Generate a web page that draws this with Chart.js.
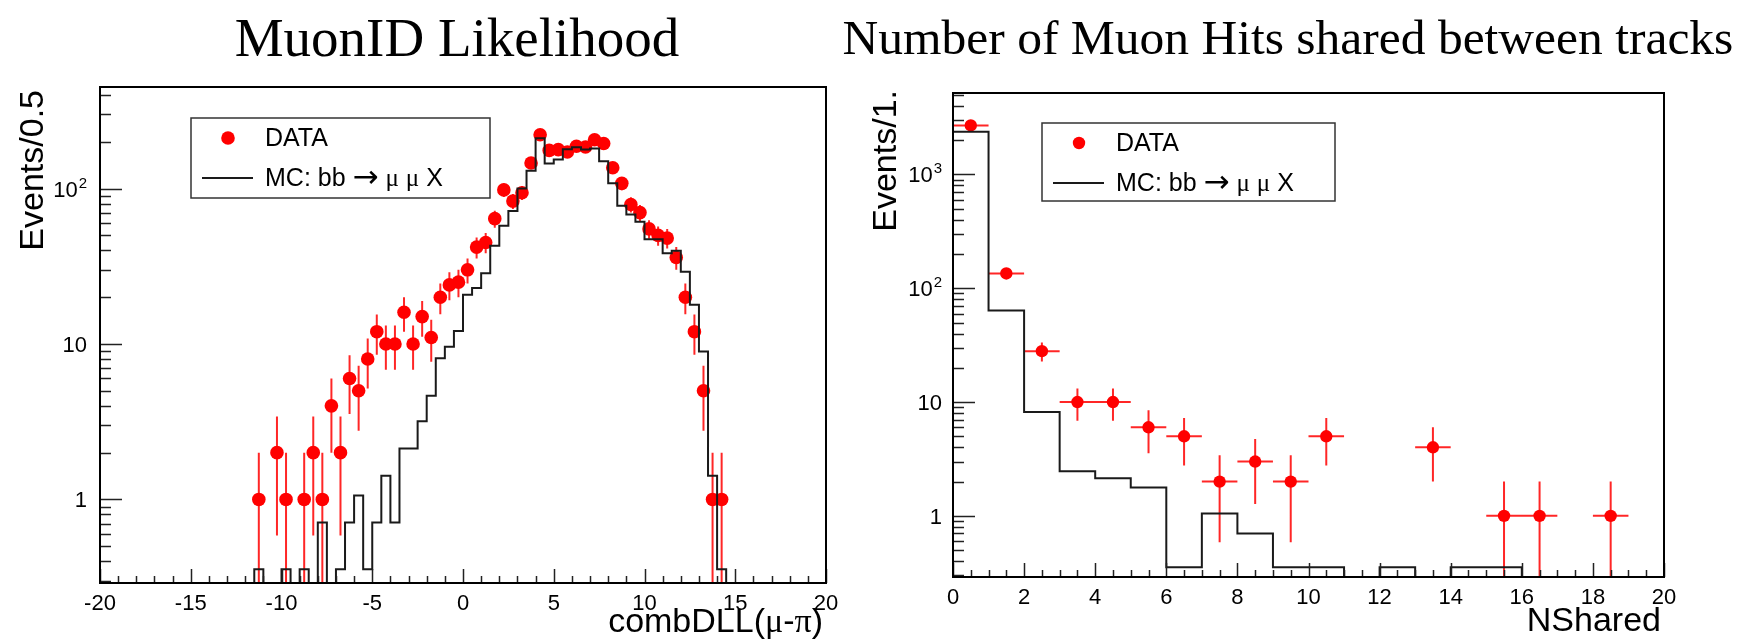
<!DOCTYPE html>
<html>
<head>
<meta charset="utf-8">
<script src="https://cdn.jsdelivr.net/npm/chart.js@4.4.0/dist/chart.umd.min.js"></script>
<style>
  body { margin: 0; background: #fff; }
  #wrap { position: relative; width: 1740px; height: 640px; overflow: hidden; }
  canvas { position: absolute; top: 0; }
  .title { position: absolute; top: 11px; font-family: 'Liberation Serif', 'Times New Roman', serif; color: #000; text-align: center; white-space: nowrap; line-height: 54px; }
</style>
</head>
<body>
<div id="wrap">
  <canvas id="dll" width="870" height="640" style="left:0"></canvas>
  <canvas id="nshared" width="870" height="640" style="left:870px"></canvas>
  <div class="title" style="left:0;width:914px;font-size:55px">MuonID Likelihood</div>
  <div class="title" style="left:836px;width:904px;font-size:49.5px">Number of Muon Hits shared between tracks</div>
</div>
<script>
// combDLL(mu-pi), bins of 0.5
var dllBinWidth = 0.5;
var dllDataFirst = -11.25;   // centre of first data bin
var dllData = [1, 0, 2, 1, 0, 1, 2, 1, 4, 2, 6, 5, 8, 12, 10, 10, 16, 10, 15, 11,
               20, 24, 25, 30, 42, 45, 64, 98, 83, 94, 146, 222, 176, 178, 172, 187,
               185, 206, 195, 136, 108, 79, 70, 55, 50, 48, 36, 20, 12, 5, 1, 1];
var dllMcFirst = -11.5;      // low edge of first MC bin
var dllMc = [0.355, 0, 0, 0.355, 0, 0.355, 0, 0.71, 0, 0.355, 0.71, 1.06, 0.355, 0.71,
             1.42, 0.71, 2.13, 2.13, 3.18, 4.65, 8.1, 9.6, 12.1, 20.7, 22.9, 28.5, 42.9,
             57.6, 71.6, 100, 130, 211, 145, 154, 179, 184, 178, 181, 150, 108, 77.4,
             68.2, 61.2, 47.1, 47.1, 38.3, 39.8, 29.2, 17.9, 8.95, 1.42, 0.355];
var dllXTicks = [-20, -15, -10, -5, 0, 5, 10, 15, 20];
var dllYTicks = [1, 10, 100];
var dllYLabels = ['1', '10', '10^2'];

// number of shared muon hits, bins of 1
var nsBinWidth = 1;
var nsData = [2700, 135, 28, 10, 10, 6, 5, 2, 3, 2, 5, 0, 0, 4, 0, 1, 1, 0, 1, 0];
var nsMc = [2370, 63.6, 8.17, 2.46, 2.14, 1.77, 0.354, 1.05, 0.70, 0.354, 0.354, 0,
            0.354, 0, 0.354, 0.354, 0, 0, 0, 0];
var nsXTicks = [0, 2, 4, 6, 8, 10, 12, 14, 16, 18, 20];
var nsYTicks = [1, 10, 100, 1000];
var nsYLabels = ['1', '10', '10^2', '10^3'];

var SANS = '"Liberation Sans", Arial, Helvetica, sans-serif';
var GREEK = '"Liberation Serif", "Times New Roman", serif';
var ARROW = '"DejaVu Sans", sans-serif';

// data points at bin centres, empty bins are not drawn
function dataPoints(first, width, values) {
  var pts = [];
  values.forEach(function (v, i) {
    if (v > 0) pts.push({ x: first + i * width, y: v });
  });
  return pts;
}

// step outline: one point per low edge, closed down to the axis floor
function histPoints(first, width, values, xmin, xmax, floor) {
  var pts = [{ x: xmin, y: floor }];
  values.forEach(function (v, i) {
    pts.push({ x: first + i * width, y: v > 0 ? v : floor });
  });
  var end = first + values.length * width;
  pts.push({ x: end, y: floor });
  if (end < xmax) pts.push({ x: xmax, y: floor });
  return pts;
}

// text with greek letters and arrows set in a symbol-like face
function richText(ctx, str, x, y, size, align) {
  var runs = [];
  for (var i = 0; i < str.length; i++) {
    var c = str[i];
    var isArrow = /[\u2190-\u21ff]/.test(c);
    var font = isArrow ? ARROW : (/[\u0370-\u03ff]/.test(c) ? GREEK : SANS);
    var px = isArrow ? Math.round(size * 1.25) : size;
    var last = runs[runs.length - 1];
    if (last && last.font === font && last.px === px) last.t += c;
    else runs.push({ t: c, font: font, px: px });
  }
  var total = 0;
  runs.forEach(function (r) {
    ctx.font = r.px + 'px ' + r.font;
    r.w = ctx.measureText(r.t).width;
    total += r.w;
  });
  var cx = align === 'right' ? x - total : x;
  ctx.textAlign = 'left';
  runs.forEach(function (r) {
    ctx.font = r.px + 'px ' + r.font;
    ctx.fillText(r.t, cx, y);
    cx += r.w;
  });
}

// ROOT-like frame, inward ticks, error bars, axis titles and legend box
var rootStyle = {
  id: 'rootStyle',
  beforeDatasetsDraw: function (chart, args, opts) {
    var ctx = chart.ctx, x = chart.scales.x, y = chart.scales.y, a = chart.chartArea;
    ctx.save();
    ctx.beginPath();
    ctx.rect(a.left, a.top, a.right - a.left, a.bottom - a.top);
    ctx.clip();
    ctx.strokeStyle = 'rgba(255,0,0,0.85)';
    ctx.lineWidth = 2;
    ctx.beginPath();
    chart.data.datasets.forEach(function (ds) {
      if (!ds.errorBars) return;
      ds.data.forEach(function (p) {
        var e = Math.sqrt(p.y);
        var px = x.getPixelForValue(p.x);
        var py = y.getPixelForValue(p.y);
        ctx.moveTo(px, y.getPixelForValue(Math.max(p.y - e, y.min)));
        ctx.lineTo(px, y.getPixelForValue(p.y + e));
        ctx.moveTo(x.getPixelForValue(p.x - ds.binWidth / 2), py);
        ctx.lineTo(x.getPixelForValue(p.x + ds.binWidth / 2), py);
      });
    });
    ctx.stroke();
    ctx.restore();
  },
  afterDraw: function (chart, args, opts) {
    var ctx = chart.ctx, x = chart.scales.x, y = chart.scales.y, a = chart.chartArea;
    ctx.save();

    // ticks pointing into the frame
    ctx.strokeStyle = '#222';
    ctx.lineWidth = 1.5;
    ctx.beginPath();
    for (var v = x.min; v <= x.max + 1e-9; v += opts.xMinor) {
      var r = v / opts.xMajor;
      var major = Math.abs(r - Math.round(r)) < 1e-6;
      var px = Math.round(x.getPixelForValue(v)) + 0.5;
      ctx.moveTo(px, a.bottom);
      ctx.lineTo(px, a.bottom - (major ? 14 : 7));
    }
    var d0 = Math.floor(Math.log10(y.min)), d1 = Math.ceil(Math.log10(y.max));
    for (var d = d0; d <= d1; d++) {
      for (var k = 1; k <= 9; k++) {
        var val = k * Math.pow(10, d);
        if (val < y.min || val > y.max) continue;
        var py = Math.round(y.getPixelForValue(val)) + 0.5;
        ctx.moveTo(a.left, py);
        ctx.lineTo(a.left + (k === 1 ? 22 : 11), py);
      }
    }
    ctx.stroke();

    // frame
    ctx.strokeStyle = '#000';
    ctx.lineWidth = 2;
    ctx.strokeRect(a.left, a.top, a.right - a.left, a.bottom - a.top);

    // log axis labels, powers written as raised exponents
    ctx.fillStyle = '#000';
    ctx.textBaseline = 'alphabetic';
    ctx.textAlign = 'right';
    opts.yTicks.forEach(function (t, i) {
      var parts = opts.yLabels[i].split('^');
      var base = y.getPixelForValue(t) + 8;
      var right = a.left - opts.yPad;
      if (parts[1]) {
        ctx.font = '15px ' + SANS;
        ctx.fillText(parts[1], right, base - 9);
        right -= ctx.measureText(parts[1]).width + 1;
      }
      ctx.font = '22px ' + SANS;
      ctx.fillText(parts[0], right, base);
    });

    // axis titles, aligned to the axis ends
    ctx.font = '34px ' + SANS;
    richText(ctx, opts.xTitle, a.right - 3, opts.xTitleBaseline, 34, 'right');
    ctx.save();
    ctx.translate(opts.yTitleBaseline, opts.yTitleEnd);
    ctx.rotate(-Math.PI / 2);
    ctx.font = '34px ' + SANS;
    ctx.textAlign = 'right';
    ctx.fillText(opts.yTitle, 0, 0);
    ctx.restore();

    // legend
    var L = opts.legend;
    ctx.strokeStyle = '#333';
    ctx.lineWidth = 1.5;
    ctx.strokeRect(L.x, L.y, L.w, L.h);
    ctx.textBaseline = 'middle';
    var dataSet = chart.data.datasets[0], mcSet = chart.data.datasets[1];
    ctx.fillStyle = dataSet.backgroundColor;
    ctx.beginPath();
    ctx.arc(L.x + 37, L.y + 20, dataSet.pointRadius, 0, Math.PI * 2);
    ctx.fill();
    ctx.fillStyle = '#000';
    richText(ctx, dataSet.label, L.x + 74, L.y + 21, 25, 'left');
    ctx.strokeStyle = mcSet.borderColor;
    ctx.lineWidth = mcSet.borderWidth;
    ctx.beginPath();
    ctx.moveTo(L.x + 11, L.y + 60);
    ctx.lineTo(L.x + 62, L.y + 60);
    ctx.stroke();
    richText(ctx, mcSet.label, L.x + 74, L.y + 61, 25, 'left');

    ctx.restore();
  }
};

function makeChart(id, cfg) {
  return new Chart(document.getElementById(id), {
    type: 'scatter',
    data: {
      datasets: [{
        label: 'DATA',
        data: cfg.data,
        backgroundColor: '#ff0000',
        borderWidth: 0,
        pointRadius: cfg.radius,
        pointHoverRadius: cfg.radius,
        errorBars: true,
        binWidth: cfg.binWidth,
        order: 2
      }, {
        label: 'MC: bb \u2192 \u03bc \u03bc X',
        type: 'line',
        data: cfg.mc,
        stepped: true,
        borderColor: '#1a1a1a',
        borderWidth: 2,
        pointRadius: 0,
        fill: false,
        order: 1
      }]
    },
    options: {
      responsive: false,
      animation: false,
      events: [],
      layout: { padding: { left: 0, top: cfg.area.top, right: 870 - cfg.area.right, bottom: 0 } },
      plugins: {
        legend: { display: false },
        tooltip: { enabled: false },
        rootStyle: cfg.style
      },
      scales: {
        x: {
          type: 'linear',
          min: cfg.xMin,
          max: cfg.xMax,
          afterBuildTicks: function (s) { s.ticks = cfg.xTicks.map(function (v) { return { value: v }; }); },
          afterFit: function (s) { s.height = 640 - cfg.area.bottom; },
          grid: { display: false, drawTicks: false },
          border: { display: false },
          ticks: { padding: 8, maxRotation: 0, autoSkip: false, color: '#000', font: { family: SANS, size: 22 } }
        },
        y: {
          type: 'logarithmic',
          min: cfg.yMin,
          max: cfg.yMax,
          afterBuildTicks: function (s) { s.ticks = cfg.style.yTicks.map(function (v) { return { value: v }; }); },
          afterFit: function (s) { s.width = cfg.area.left; },
          grid: { display: false, drawTicks: false },
          border: { display: false },
          ticks: { display: false }
        }
      }
    },
    plugins: [rootStyle]
  });
}

makeChart('dll', {
  data: dataPoints(dllDataFirst, dllBinWidth, dllData),
  mc: histPoints(dllMcFirst, dllBinWidth, dllMc, -20, 20, 0.29),
  binWidth: dllBinWidth,
  radius: 6.8,
  area: { left: 100, top: 87, right: 826, bottom: 583 },
  xMin: -20, xMax: 20, yMin: 0.29, yMax: 450,
  xTicks: dllXTicks,
  style: {
    xMajor: 5, xMinor: 1,
    yTicks: dllYTicks, yLabels: dllYLabels, yPad: 13,
    xTitle: 'combDLL(\u03bc-\u03c0)', xTitleBaseline: 632,
    yTitle: 'Events/0.5', yTitleBaseline: 43, yTitleEnd: 90,
    legend: { x: 191, y: 118, w: 299, h: 80 }
  }
});

makeChart('nshared', {
  data: dataPoints(nsBinWidth / 2, nsBinWidth, nsData),
  mc: histPoints(0, nsBinWidth, nsMc, 0, 20, 0.29),
  binWidth: nsBinWidth,
  radius: 6.2,
  area: { left: 83, top: 93, right: 794, bottom: 577 },
  xMin: 0, xMax: 20, yMin: 0.29, yMax: 5200,
  xTicks: nsXTicks,
  style: {
    xMajor: 2, xMinor: 0.5,
    yTicks: nsYTicks, yLabels: nsYLabels, yPad: 11,
    xTitle: 'NShared', xTitleBaseline: 631,
    yTitle: 'Events/1.', yTitleBaseline: 26, yTitleEnd: 90,
    legend: { x: 172, y: 123, w: 293, h: 78 }
  }
});
</script>
</body>
</html>
